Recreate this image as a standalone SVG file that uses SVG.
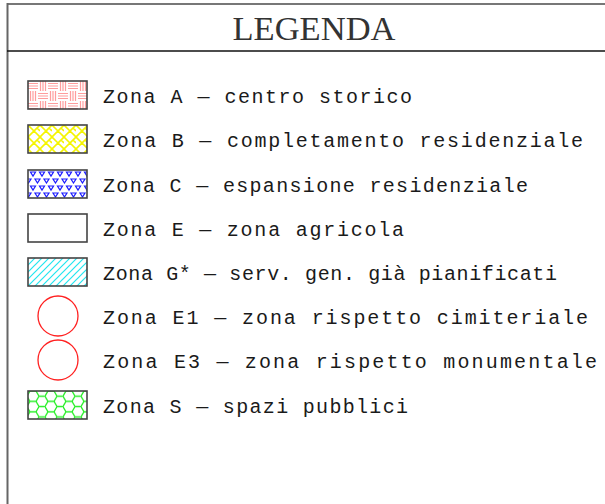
<svg xmlns="http://www.w3.org/2000/svg" width="605" height="504" viewBox="0 0 605 504">
<defs>
<style>
.t{font-family:"Liberation Mono","DejaVu Sans Mono",monospace;font-size:20px;fill:#1a1a1a;}
.title{font-family:"Liberation Serif","Times New Roman",serif;font-size:34px;fill:#333;}
.box{stroke:#444;stroke-width:1.6;}
.circ{fill:none;stroke:#ff2020;stroke-width:1.3;}
</style>
<pattern id="pA" patternUnits="userSpaceOnUse" x="28" y="81" width="20" height="20">
<rect width="20" height="20" fill="#fff"/>
<g stroke="#ff9d9d" stroke-width="1.2" fill="none">
<path d="M0,2.5H10M0,5H10M0,7.5H10M12.5,0V10M15,0V10M17.5,0V10M2.5,10V20M5,10V20M7.5,10V20M10,12.5H20M10,15H20M10,17.5H20"/>
</g>
</pattern>
<pattern id="pB" patternUnits="userSpaceOnUse" x="28" y="125" width="12" height="12">
<rect width="12" height="12" fill="#fff"/>
<g stroke="#f5f500" stroke-width="1.6" fill="none">
<path d="M0,12L12,0M-6,6L0,0M6,6L12,12M0,0L6,6M6,6L3,9M9,3L12,6M-1,1L1,-1M11,13L13,11"/>
</g>
</pattern>
<pattern id="pC" patternUnits="userSpaceOnUse" x="29" y="170" width="9" height="14">
<rect width="9" height="14" fill="#fff"/>
<g stroke="#1a1aff" stroke-width="1.2" fill="none">
<path d="M1.5,2H6.5L4,6Z"/>
<path d="M6,9H11L8.5,13Z"/>
<path d="M-3,9H2L-0.5,13Z"/>
</g>
</pattern>
<pattern id="pG" patternUnits="userSpaceOnUse" x="28" y="258" width="7" height="7">
<rect width="7" height="7" fill="#fff"/>
<path d="M-1,8L8,-1M-1,1L1,-1M6,8L8,6" stroke="#22e6f0" stroke-width="1.2"/>
</pattern>
<pattern id="pS" patternUnits="userSpaceOnUse" x="27" y="391" width="18" height="10.392">
<rect width="18" height="10.392" fill="#fff"/>
<path d="M12,5.196L9,10.392H3L0,5.196L3,0H9ZM12,5.196H18" stroke="#22ee22" stroke-width="1.3" fill="none"/>
</pattern>
</defs>
<rect width="605" height="504" fill="#fff"/>
<g id="frame" fill="none">
<path d="M7,4H605" stroke="#777" stroke-width="2"/>
<path d="M7.5,3V504" stroke="#666" stroke-width="2"/>
<path d="M7,51H605" stroke="#111" stroke-width="1.6"/>
</g>
<g id="title">
<text class="title" x="314" y="40" text-anchor="middle" textLength="163" lengthAdjust="spacingAndGlyphs">LEGENDA</text>
</g>
<g id="zonaA">
<rect class="box" x="28" y="81" width="59" height="28" fill="url(#pA)"/>
<text class="t" x="103" y="103" textLength="309" lengthAdjust="spacing">Zona A — centro storico</text>
</g>
<g id="zonaB">
<rect class="box" x="28" y="125" width="59" height="28" fill="url(#pB)"/>
<text class="t" x="103" y="147" textLength="480" lengthAdjust="spacing">Zona B — completamento residenziale</text>
</g>
<g id="zonaC">
<rect class="box" x="28" y="170" width="59" height="28" fill="url(#pC)"/>
<text class="t" x="103" y="192" textLength="425" lengthAdjust="spacing">Zona C — espansione residenziale</text>
</g>
<g id="zonaE">
<rect class="box" x="28" y="214" width="59" height="28" fill="#fff"/>
<text class="t" x="103" y="236" textLength="301" lengthAdjust="spacing">Zona E — zona agricola</text>
</g>
<g id="zonaG">
<rect class="box" x="28" y="258" width="59" height="28" fill="url(#pG)"/>
<text class="t" x="103" y="280" textLength="454" lengthAdjust="spacing">Zona G* — serv. gen. già pianificati</text>
</g>
<g id="zonaE1">
<circle class="circ" cx="58" cy="316" r="20"/>
<text class="t" x="103" y="324" textLength="485" lengthAdjust="spacing">Zona E1 — zona rispetto cimiteriale</text>
</g>
<g id="zonaE3">
<circle class="circ" cx="58" cy="360" r="20"/>
<text class="t" x="103" y="368" textLength="494" lengthAdjust="spacing">Zona E3 — zona rispetto monumentale</text>
</g>
<g id="zonaS">
<rect class="box" x="28" y="391" width="59" height="28" fill="url(#pS)"/>
<text class="t" x="103" y="413" textLength="305" lengthAdjust="spacing">Zona S — spazi pubblici</text>
</g>
</svg>
